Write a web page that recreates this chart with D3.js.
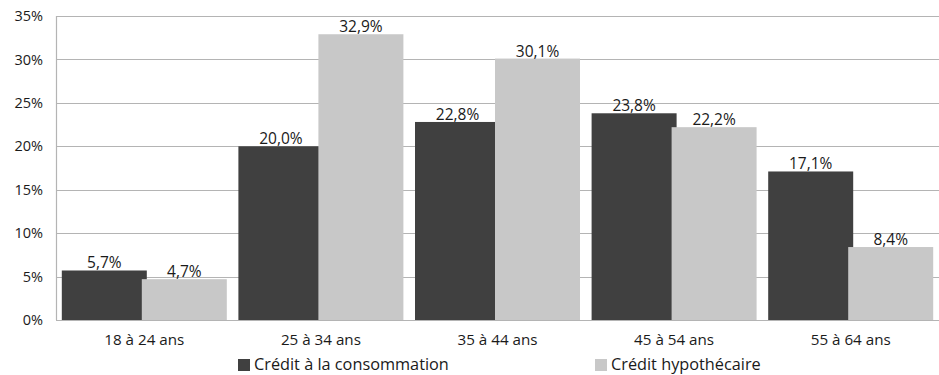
<!DOCTYPE html>
<html>
<head>
<meta charset="utf-8">
<script src="https://cdn.jsdelivr.net/npm/d3@7"></script>
<style>
  html, body { margin: 0; padding: 0; background: #fff; }
  svg { display: block; font-family: "Open Sans", "Noto Sans", sans-serif; }
</style>
</head>
<body>
<svg id="chart" width="939" height="375"></svg>
<script>
// Age bands and share of borrowers per credit type
const categories = ["18 à 24 ans", "25 à 34 ans", "35 à 44 ans", "45 à 54 ans", "55 à 64 ans"];
const seriesNames = ["Crédit à la consommation", "Crédit hypothécaire"];
const consommation = [5.7, 20.0, 22.8, 23.8, 17.1];
const hypothecaire = [4.7, 32.9, 30.1, 22.2, 8.4];
const yTicks = [0, 5, 10, 15, 20, 25, 30, 35];
const colors = ["#404040", "#c8c8c8"];

const svg = d3.select("#chart");
const margin = { left: 56, right: 0, top: 16, bottom: 55 };
const W = 939, H = 375;
const plotW = W - margin.left - margin.right;
const plotH = H - margin.top - margin.bottom;

const x = d3.scaleBand().domain(categories).range([margin.left, margin.left + plotW]).paddingInner(0).paddingOuter(0);
const y = d3.scaleLinear().domain([0, 35]).range([margin.top + plotH, margin.top]);

const fmt = v => v.toFixed(1).replace(".", ",") + "%";

// horizontal gridlines
svg.append("g")
  .selectAll("line")
  .data(yTicks)
  .join("line")
  .attr("x1", margin.left)
  .attr("x2", W)
  .attr("y1", d => Math.round(y(d)) + 0.5)
  .attr("y2", d => Math.round(y(d)) + 0.5)
  .attr("stroke", "#b4b4b4")
  .attr("stroke-width", 1.2);

// left axis line
svg.append("line")
  .attr("x1", margin.left + 0.5).attr("x2", margin.left + 0.5)
  .attr("y1", y(35)).attr("y2", y(0))
  .attr("stroke", "#b4b4b4").attr("stroke-width", 1.2);

// y tick labels
const yAxis = d3.axisLeft(y).tickValues(yTicks).tickFormat(d => d + "%").tickSize(0).tickPadding(13);
const gy = svg.append("g").attr("transform", `translate(${margin.left},0)`).call(yAxis);
gy.select(".domain").remove();
gy.selectAll("text").attr("font-size", 14.5).attr("fill", "#1a1a1a").attr("font-family", "\"Open Sans\", sans-serif");

// bars: two overlapping series per group
const barW = 85, offset = 40;
const series = [consommation, hypothecaire];
series.forEach((vals, si) => {
  const g = svg.append("g");
  const dx = si === 0 ? -offset : offset;
  g.selectAll("rect")
    .data(vals)
    .join("rect")
    .attr("x", (d, i) => x(categories[i]) + x.bandwidth() / 2 + dx - barW / 2)
    .attr("width", barW)
    .attr("y", d => y(d))
    .attr("height", d => y(0) - y(d))
    .attr("fill", colors[si]);
});

// value labels (drawn after all bars so they stay on top)
series.forEach((vals, si) => {
  const dx = si === 0 ? -offset : offset;
  svg.append("g").selectAll("text")
    .data(vals)
    .join("text")
    .attr("x", (d, i) => x(categories[i]) + x.bandwidth() / 2 + dx)
    .attr("y", d => y(d) - 2)
    .attr("text-anchor", "middle")
    .attr("font-size", 15.5)
    .attr("fill", "#1a1a1a")
    .text(fmt);
});

// x axis labels
const xAxis = d3.axisBottom(x).tickSize(0).tickPadding(14);
const gx = svg.append("g").attr("transform", `translate(0,${y(0)})`).call(xAxis);
gx.select(".domain").remove();
gx.selectAll("text").attr("font-size", 15.2).attr("fill", "#1a1a1a").attr("font-family", "\"Open Sans\", sans-serif");

// legend
const legendX = [238, 595];
const legend = svg.append("g");
seriesNames.forEach((name, i) => {
  legend.append("rect")
    .attr("x", legendX[i]).attr("y", 359)
    .attr("width", 12).attr("height", 12)
    .attr("fill", colors[i]);
  legend.append("text")
    .attr("x", legendX[i] + 16).attr("y", 370)
    .attr("font-size", 16.3)
    .attr("fill", "#1a1a1a")
    .text(name);
});
</script>
</body>
</html>
